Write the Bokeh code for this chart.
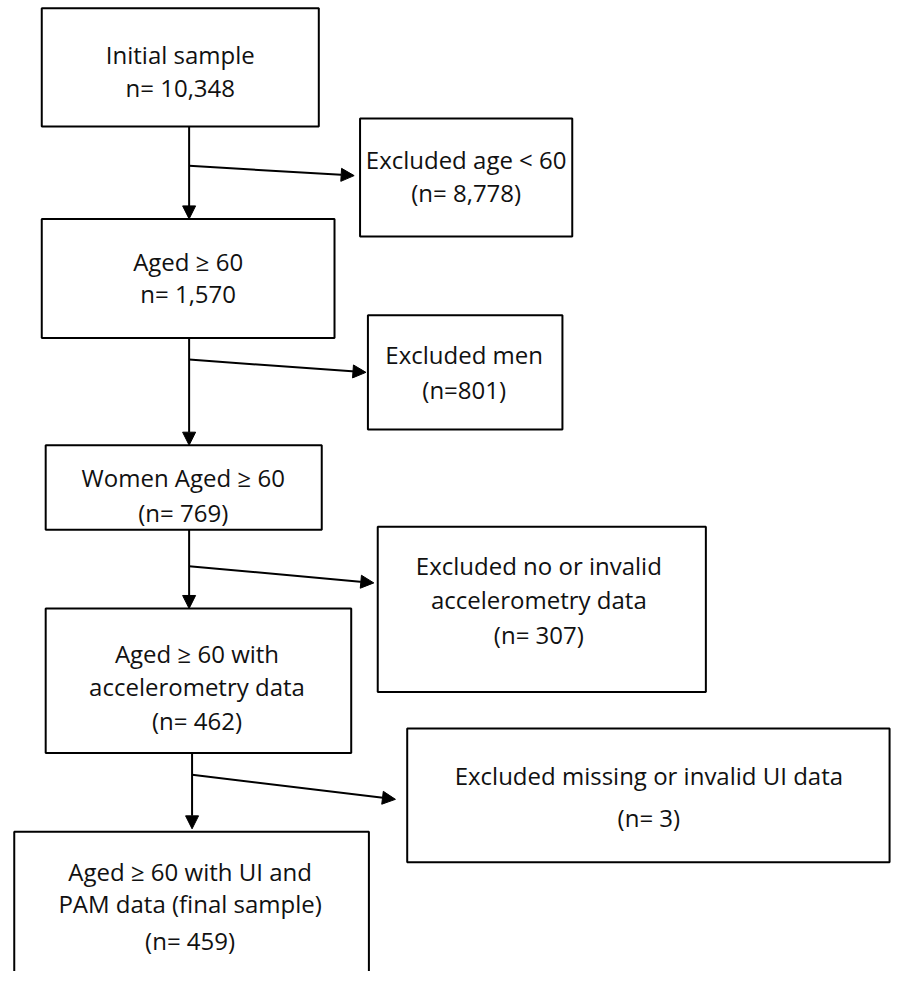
from bokeh.plotting import figure
from bokeh.models import Range1d, Arrow, NormalHead, ColumnDataSource
from bokeh.core.properties import value
from bokeh.embed import file_html
from bokeh.resources import INLINE

# ---- data ----
stage_labels = [
    ["Initial sample", "n= 10,348"],
    ["Aged \u2265 60", "n= 1,570"],
    ["Women Aged \u2265 60", "(n= 769)"],
    ["Aged \u2265 60 with", "accelerometry data", "(n= 462)"],
    ["Aged \u2265 60 with UI and", "PAM data (final sample)", "(n= 459)"],
]
stage_counts = [10348, 1570, 769, 462, 459]
excl_labels = [
    ["Excluded age < 60", "(n= 8,778)"],
    ["Excluded men", "(n=801)"],
    ["Excluded no or invalid", "accelerometry data", "(n= 307)"],
    ["Excluded missing or invalid UI data", "(n= 3)"],
]
excl_counts = [8778, 801, 307, 3]

# ---- layout (pixel coordinates of the reference) ----
stage_boxes = [(42, 324, 8, 128), (42, 340, 222, 343), (46, 327, 452, 538),
               (46, 357, 618, 765), (14, 375, 845, 1010)]
stage_text_y = [[55, 88], [265, 298], [485, 520], [664, 697, 732], [885, 918, 955]]
stage_text_x = [183, 191, 186, 200, 193]
excl_boxes = [(366, 582, 120, 240), (374, 572, 320, 436), (384, 718, 535, 703), (414, 905, 740, 876)]
excl_text_y = [[162, 195], [360, 395], [574, 609, 644], [788, 830]]
excl_text_x = [474, 472, 548, 660]
down_arrows = [(192, 128, 222), (192, 343, 452), (192, 538, 618), (195, 765, 842)]
side_arrows = [(192, 168, 360, 178), (192, 365, 372, 378), (192, 575, 380, 592), (195, 787, 402, 812)]

W, H = 893, 971
p = figure(width=W, height=H, output_backend="svg", toolbar_location=None,
           x_range=Range1d(0, 909), y_range=Range1d(987, 0),
           min_border=0, border_fill_color="white", background_fill_color="white")
p.axis.visible = False
p.grid.visible = False
p.outline_line_color = None

boxes = stage_boxes + excl_boxes
p.quad(left=[b[0] for b in boxes], right=[b[1] for b in boxes],
       top=[b[2] for b in boxes], bottom=[b[3] for b in boxes],
       fill_color="white", line_color="black", line_width=2)

tx, ty, tt = [], [], []
for labels, xs, ys in [(stage_labels, stage_text_x, stage_text_y), (excl_labels, excl_text_x, excl_text_y)]:
    for lab, x, yl in zip(labels, xs, ys):
        for line, y in zip(lab, yl):
            tx.append(x); ty.append(y); tt.append(line)
src = ColumnDataSource(dict(x=tx, y=ty, text=tt))
p.text(x="x", y="y", text="text", source=src, text_align="center", text_baseline="middle",
       text_font=value("Open Sans"), text_font_size="24px", text_color="#111111")

for x, y0, y1 in down_arrows:
    p.add_layout(Arrow(end=NormalHead(size=13, fill_color="black", line_color="black"),
                       x_start=x, y_start=y0, x_end=x, y_end=y1,
                       line_color="black", line_width=2))
for x0, y0, x1, y1 in side_arrows:
    p.add_layout(Arrow(end=NormalHead(size=13, fill_color="black", line_color="black"),
                       x_start=x0, y_start=y0, x_end=x1, y_end=y1,
                       line_color="black", line_width=2))

open("out.html", "w").write(file_html(p, INLINE))
